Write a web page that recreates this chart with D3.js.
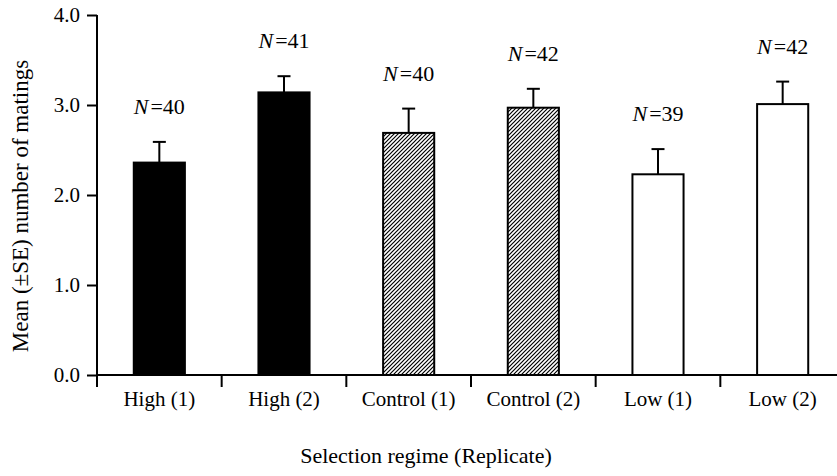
<!DOCTYPE html>
<html>
<head>
<meta charset="utf-8">
<script src="https://cdn.jsdelivr.net/npm/d3@7"></script>
<style>
  body { margin: 0; background: #fff; }
  text { font-family: "Liberation Serif", "Times New Roman", serif; fill: #000; }
</style>
</head>
<body>
<svg id="chart"></svg>
<script>
(function () {
  'use strict';

  const categories = ["High (1)", "High (2)", "Control (1)", "Control (2)", "Low (1)", "Low (2)"];
  const regimes = ["high", "high", "control", "control", "low", "low"];
  const means = [2.36, 3.14, 2.69, 2.97, 2.23, 3.01];
  const errors = [0.23, 0.18, 0.27, 0.21, 0.28, 0.25];
  const sampleSizes = [40, 41, 40, 42, 39, 42];
  const yTicks = [0, 1, 2, 3, 4];

  const width = 837, height = 476;
  const margin = { top: 15, right: -8, bottom: 101, left: 97 };
  const innerW = width - margin.left - margin.right;
  const innerH = height - margin.top - margin.bottom;

  const svg = d3.select("#chart")
    .attr("width", width)
    .attr("height", height);

  // diagonal hatch for the control bars
  svg.append("defs").append("pattern")
    .attr("id", "hatch")
    .attr("patternUnits", "userSpaceOnUse")
    .attr("width", 4)
    .attr("height", 4)
    .append("path")
    .attr("d", "M-1,1 l2,-2 M0,4 l4,-4 M3,5 l2,-2")
    .attr("stroke", "#000")
    .attr("stroke-width", 1.2);

  const g = svg.append("g")
    .attr("transform", `translate(${margin.left},${margin.top})`);

  const x = d3.scaleBand()
    .domain(categories)
    .range([0, innerW])
    .paddingInner(0.59)
    .paddingOuter(0.295);

  const y = d3.scaleLinear()
    .domain([0, 4])
    .range([innerH, 0]);

  const fills = { high: "#000", control: "url(#hatch)", low: "#fff" };

  const data = categories.map((c, i) => ({
    cat: c, regime: regimes[i], mean: means[i], se: errors[i], n: sampleSizes[i]
  }));

  // error bars (upper only)
  const err = g.selectAll(".err").data(data).enter().append("g");
  err.append("line")
    .attr("x1", d => x(d.cat) + x.bandwidth() / 2)
    .attr("x2", d => x(d.cat) + x.bandwidth() / 2)
    .attr("y1", d => y(d.mean))
    .attr("y2", d => y(d.mean + d.se))
    .attr("stroke", "#000")
    .attr("stroke-width", 2);
  err.append("line")
    .attr("x1", d => x(d.cat) + x.bandwidth() / 2 - 6.5)
    .attr("x2", d => x(d.cat) + x.bandwidth() / 2 + 6.5)
    .attr("y1", d => y(d.mean + d.se))
    .attr("y2", d => y(d.mean + d.se))
    .attr("stroke", "#000")
    .attr("stroke-width", 2);

  g.selectAll(".bar").data(data).enter().append("rect")
    .attr("x", d => x(d.cat))
    .attr("y", d => y(d.mean))
    .attr("width", x.bandwidth())
    .attr("height", d => y(0) - y(d.mean))
    .attr("fill", d => fills[d.regime])
    .attr("stroke", "#000")
    .attr("stroke-width", 2);

  // N labels
  const lab = g.selectAll(".nlab").data(data).enter().append("text")
    .attr("x", d => x(d.cat) + x.bandwidth() / 2)
    .attr("y", d => y(d.mean + d.se) - 28)
    .attr("text-anchor", "middle")
    .style("font-size", "22px");
  lab.append("tspan").style("font-style", "italic").text("N");
  lab.append("tspan").attr("dx", 2).text(d => "=" + d.n);

  // y axis
  const yAxis = g.append("g")
    .call(d3.axisLeft(y).tickValues(yTicks).tickFormat(d3.format(".1f")).tickSize(10).tickPadding(7));
  yAxis.select(".domain").attr("d", `M0,${y(4)}V${y(0) + 12}`).attr("stroke-width", 2);
  yAxis.selectAll(".tick line").attr("stroke-width", 2);
  yAxis.selectAll("text").style("font-size", "21px").style("font-family", "Liberation Serif");

  // x axis: ticks sit on the category boundaries
  const bounds = d3.range(categories.length + 1).map(i => i * x.step());
  const xAxis = g.append("g").attr("transform", `translate(0,${innerH})`);
  xAxis.append("line")
    .attr("x1", 0).attr("x2", innerW)
    .attr("stroke", "#000").attr("stroke-width", 2);
  xAxis.selectAll(".xt").data(bounds).enter().append("line")
    .attr("x1", d => d).attr("x2", d => d)
    .attr("y1", 0).attr("y2", 12)
    .attr("stroke", "#000").attr("stroke-width", 2);
  xAxis.selectAll(".xl").data(categories).enter().append("text")
    .attr("x", d => x(d) + x.bandwidth() / 2)
    .attr("y", 31)
    .attr("text-anchor", "middle")
    .style("font-size", "21px")
    .text(d => d);

  svg.append("text")
    .attr("x", 426)
    .attr("y", 463)
    .attr("text-anchor", "middle")
    .style("font-size", "22px")
    .text("Selection regime (Replicate)");

  svg.append("text")
    .attr("transform", "translate(28,206) rotate(-90)")
    .attr("text-anchor", "middle")
    .style("font-size", "23px")
    .text("Mean (\u00b1SE) number of matings");
})();
</script>
</body>
</html>
